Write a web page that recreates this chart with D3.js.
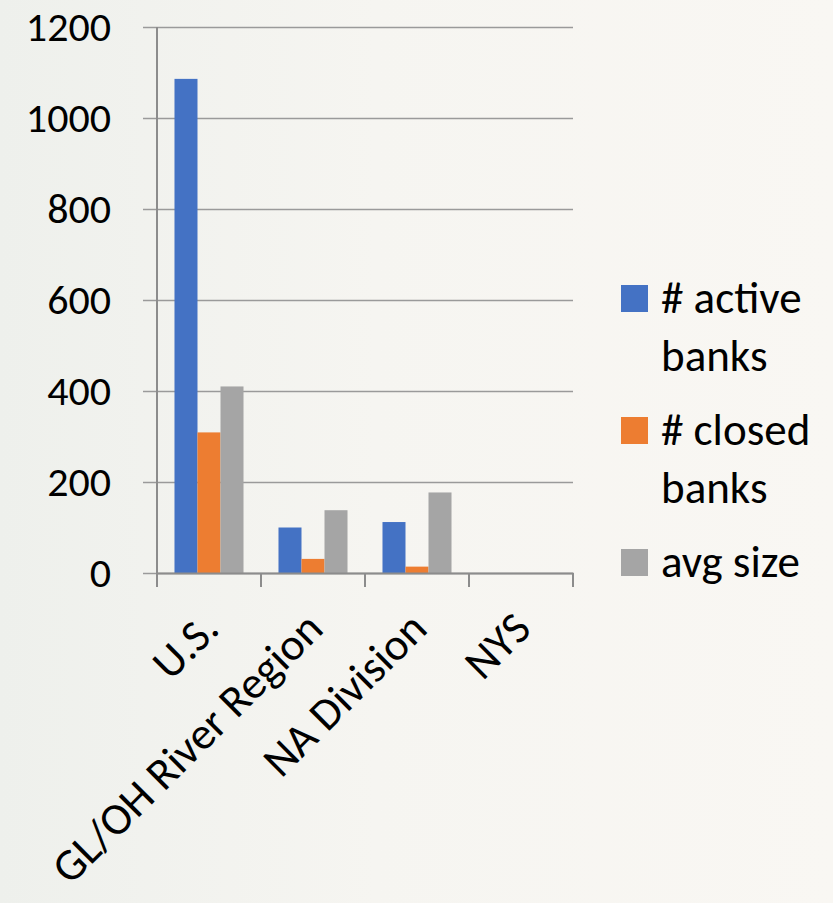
<!DOCTYPE html>
<html lang="en">

<head>
    <meta charset="UTF-8">
    <title>Banks chart</title>
    <script src="https://cdn.jsdelivr.net/npm/d3@7"></script>
    <style>
        body {
            margin: 0;
            background: #f5f4f0;
        }

        text {
            font-family: Carlito, Calibri, Lato, sans-serif;
            fill: #000;
        }
    </style>
</head>

<body>
    <div id="chart"></div>

    <script>
        // data
        const categories = ['U.S.', 'GL/OH River Region', 'NA Division', 'NYS']
        const seriesNames = ['# active banks', '# closed banks', 'avg size']
        const activeBanks = [1086, 100, 112, 0]
        const closedBanks = [309, 31, 14, 0]
        const avgSize = [410, 138, 177, 0]
        const yTicks = [0, 200, 400, 600, 800, 1000, 1200]
        const colors = ['#4472C4', '#ED7D31', '#A5A5A5']

        const width = 833,
            height = 903

        const svg = d3.select('#chart').append('svg')
            .attr('width', width)
            .attr('height', height)

        // paper-ish background
        let grad = svg.append('defs').append('linearGradient').attr('id', 'bg')
        grad.append('stop').attr('offset', '0%').attr('stop-color', '#eef0ec')
        grad.append('stop').attr('offset', '45%').attr('stop-color', '#f6f5f1')
        grad.append('stop').attr('offset', '100%').attr('stop-color', '#f9f7f3')
        svg.append('rect').attr('width', width).attr('height', height).attr('fill', 'url(#bg)')

        const plotLeft = 157,
            plotRight = 573,
            plotTop = 27,
            plotBottom = 573

        const x = d3.scaleBand().domain(categories).range([plotLeft, plotRight])
        const xInner = d3.scaleBand().domain(seriesNames).range([0, x.bandwidth()])
            .paddingOuter(0.76)
        const y = d3.scaleLinear().domain([0, 1200]).range([plotBottom, plotTop])

        const table = categories.map((c, i) => ({
            cat: c,
            values: [activeBanks[i], closedBanks[i], avgSize[i]]
        }))

        // gridlines + y labels
        let yAxis = svg.append('g')
            .attr('transform', `translate(${plotLeft},0)`)
            .call(d3.axisLeft(y).tickValues(yTicks).tickFormat(d3.format('d')).tickSize(14).tickPadding(32))
        yAxis.select('.domain').remove()
        yAxis.selectAll('.tick line').attr('stroke', '#9a9a9a').attr('stroke-width', 1.5)
        yAxis.selectAll('.tick').append('line')
            .attr('x1', 0).attr('x2', plotRight - plotLeft)
            .attr('stroke', '#9a9a9a').attr('stroke-width', 1.5)
        yAxis.selectAll('.tick text').attr('font-size', 42).attr('fill', '#000')
            .style('font-family', 'Carlito, Calibri, Lato, sans-serif')

        // bars
        let groups = svg.append('g').selectAll('g').data(table).join('g')
            .attr('transform', d => `translate(${x(d.cat)},0)`)
        groups.selectAll('rect').data(d => d.values.map((v, k) => ({
                key: seriesNames[k],
                v: v,
                k: k
            })))
            .join('rect')
            .attr('x', d => xInner(d.key))
            .attr('width', xInner.bandwidth())
            .attr('y', d => y(d.v))
            .attr('height', d => y(0) - y(d.v))
            .attr('fill', d => colors[d.k])

        // axes lines
        svg.append('line').attr('x1', plotLeft).attr('x2', plotLeft)
            .attr('y1', plotTop).attr('y2', plotBottom)
            .attr('stroke', '#8c8c8c').attr('stroke-width', 2)

        let xAxis = svg.append('g')
            .attr('transform', `translate(0,${plotBottom})`)
            .call(d3.axisBottom(x).tickSize(0))
        xAxis.select('.domain').attr('stroke', '#8c8c8c').attr('stroke-width', 2)
        xAxis.selectAll('.tick text').remove()

        // category tick marks at band edges
        svg.append('g').selectAll('line')
            .data(categories.map(c => x(c)).concat([plotRight]))
            .join('line')
            .attr('x1', d => d).attr('x2', d => d)
            .attr('y1', plotBottom).attr('y2', plotBottom + 14)
            .attr('stroke', '#8c8c8c').attr('stroke-width', 2)

        // rotated category labels
        svg.append('g').selectAll('text').data(categories).join('text')
            .attr('transform', d => `translate(${x(d) + x.bandwidth() / 2 + 1},${plotBottom + 47}) rotate(-45)`)
            .attr('text-anchor', 'end')
            .attr('dy', '0.35em')
            .attr('font-size', 45)
            .text(d => d)

        // legend
        const legendLines = [
            ['# active', 'banks'],
            ['# closed', 'banks'],
            ['avg size']
        ]
        const legendY = [298, 430, 562]
        let legend = svg.append('g').selectAll('g').data(legendLines).join('g')
            .attr('transform', (d, i) => `translate(621,${legendY[i]})`)
        legend.append('rect')
            .attr('y', -13).attr('width', 27).attr('height', 27)
            .attr('fill', (d, i) => colors[i])
        legend.append('text')
            .attr('font-size', 45)
            .selectAll('tspan').data(d => d).join('tspan')
            .attr('x', 40)
            .attr('y', (d, i) => 15 + i * 58)
            .text(d => d)
    </script>
</body>

</html>
